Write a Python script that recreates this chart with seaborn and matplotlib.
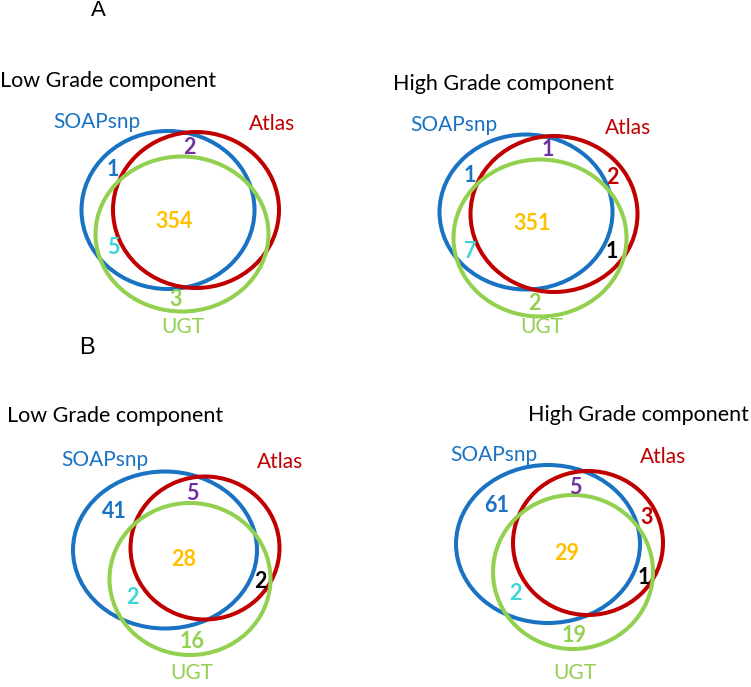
import matplotlib
matplotlib.use("Agg")
import matplotlib.pyplot as plt
from matplotlib.patches import Ellipse
import seaborn as sns

# set names and region counts
set_names = ["SOAPsnp", "Atlas", "UGT"]
regions = ["S", "SA", "A", "SAU", "SU", "AU", "U"]

a_low_counts = {"S": 1, "SA": 2, "SAU": 354, "SU": 5, "U": 3}
a_high_counts = {"S": 1, "SA": 1, "A": 2, "SAU": 351, "SU": 7, "AU": 1, "U": 2}
b_low_counts = {"S": 41, "SA": 5, "SAU": 28, "AU": 2, "SU": 2, "U": 16}
b_high_counts = {"S": 61, "SA": 5, "A": 3, "SAU": 29, "AU": 1, "SU": 2, "U": 19}

panel_titles = ["Low Grade component", "High Grade component",
                "Low Grade component", "High Grade component"]

set_colors = ["#1a73c2", "#c00000", "#92d050"]
region_colors = {"S": "#1a73c2", "SA": "#7030a0", "A": "#c00000", "SAU": "#ffc000",
                 "SU": "#3cd6d6", "AU": "#000000", "U": "#92d050"}

# layout (pixel coords of figure): ellipses (cx, cy, w, h), label spots
panels = [
    dict(counts=a_low_counts, title_xy=(0, 81), title_ha="left",
         ell=[(168, 210, 173, 158), (196, 210, 166, 156), (182, 234, 173, 155)],
         names_xy=[(97, 122), (272, 124), (183, 327)],
         pos={"S": (113, 170), "SA": (189, 147), "SAU": (174, 222), "SU": (113, 248), "U": (176, 299)}),
    dict(counts=a_high_counts, title_xy=(393, 84), title_ha="left",
         ell=[(526, 212, 173, 155), (554, 214, 167, 156), (540, 238, 173, 157)],
         names_xy=[(454, 125), (628, 128), (542, 327)],
         pos={"S": (470, 175), "SA": (548, 150), "A": (612, 178), "SAU": (532, 224),
              "SU": (470, 252), "AU": (612, 252), "U": (534, 303)}),
    dict(counts=b_low_counts, title_xy=(7, 416), title_ha="left",
         ell=[(165, 550, 184, 157), (205, 548, 149, 143), (190, 579, 161, 152)],
         names_xy=[(105, 460), (280, 462), (192, 673)],
         pos={"S": (114, 512), "SA": (192, 494), "SAU": (184, 559), "AU": (260, 582),
              "SU": (132, 598), "U": (192, 641)}),
    dict(counts=b_high_counts, title_xy=(749, 415), title_ha="right",
         ell=[(548, 544, 184, 158), (588, 543, 150, 144), (573, 572, 160, 154)],
         names_xy=[(494, 455), (663, 457), (575, 673)],
         pos={"S": (497, 506), "SA": (575, 488), "A": (647, 517), "SAU": (567, 554),
              "AU": (644, 577), "SU": (515, 593), "U": (574, 635)}),
]

sns.set_theme(style="white")
plt.rcParams["font.family"] = ["Lato", "DejaVu Sans"]

fig = plt.figure(figsize=(7.51, 6.87), dpi=100)
ax = fig.add_axes([0, 0, 1, 1])
ax.set_xlim(0, 751)
ax.set_ylim(687, 0)
ax.axis("off")

ax.text(98, 11, "A", fontsize=16, ha="center", va="center", color="black",
        family="Liberation Sans")
ax.text(87, 348, "B", fontsize=17, ha="center", va="center", color="black",
        family="Liberation Sans")

for p, title in zip(panels, panel_titles):
    ax.text(*p["title_xy"], title, fontsize=15.5, ha=p["title_ha"], va="center", color="black")
    for (cx, cy, w, h), col in zip(p["ell"], set_colors):
        ax.add_patch(Ellipse((cx, cy), w, h, fill=False, edgecolor=col, lw=2.9))
    for name, (x, y), col in zip(set_names, p["names_xy"], set_colors):
        ax.text(x, y, name, fontsize=15, ha="center", va="center", color=col)
    for r in regions:
        if r in p["counts"]:
            x, y = p["pos"][r]
            ax.text(x, y, str(p["counts"][r]), fontsize=15.5, fontweight="bold",
                    ha="center", va="center", color=region_colors[r])

fig.savefig("out.png", dpi=100)
